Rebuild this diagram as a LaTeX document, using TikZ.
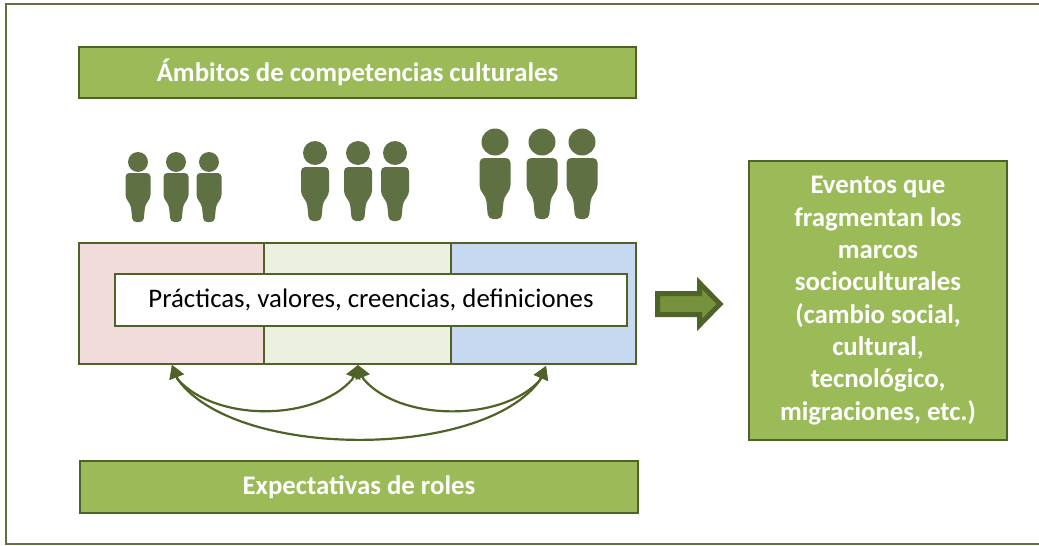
\documentclass[tikz,border=0pt]{standalone}
\usepackage{fontspec}
\setmainfont{Carlito}
\usetikzlibrary{arrows.meta,calc}
\definecolor{dk}{HTML}{4F6228}
\definecolor{fr}{HTML}{5F7143}
\definecolor{gn}{HTML}{9BBB59}
\definecolor{ar}{HTML}{76923C}
\definecolor{pk}{HTML}{F2DCDB}
\definecolor{lg}{HTML}{EBF1DE}
\definecolor{bl}{HTML}{C6D9F1}
\tikzset{
  x=1pt,y=-1pt,
  box/.style={draw=dk,line width=2pt,outer sep=0pt,fill=gn,inner sep=0pt,text=white,font=\fontsize{26.8}{32.3}\selectfont\bfseries,anchor=north west},
  cell/.style={draw=dk,line width=2.6pt,outer sep=0pt,inner sep=0pt,anchor=north west,minimum height=121pt},
  loop/.style={draw=dk,line width=2.2pt,{Triangle[length=13pt,width=15pt]}-{Triangle[length=13pt,width=15pt]}},
}
\newcommand{\baja}[2]{\raisebox{-#1}{#2}}
% #1 cx, #2 head cy, #3 head r, #4 body top, #5 bottom, #6 half width
\newcommand{\figura}[6]{%
  \fill[fr] (#1,#2) circle[radius=#3];
  \fill[fr,rounded corners=0.3*#6]
    ({#1-#6},#4) -- ({#1+#6},#4) -- ({#1+#6},{#4+0.52*(#5-#4)})
    -- ({#1+0.58*#6},{#4+0.64*(#5-#4)}) -- ({#1+0.44*#6},#5) -- ({#1-0.44*#6},#5)
    -- ({#1-0.58*#6},{#4+0.64*(#5-#4)}) -- ({#1-#6},{#4+0.52*(#5-#4)}) -- cycle;
}
\begin{document}
\begin{tikzpicture}
\useasboundingbox (0,0) rectangle (1039,546);
\node[draw=fr,line width=2.4pt,outer sep=0pt,minimum width=1040pt,minimum height=540pt,inner sep=0pt,anchor=north west] (marco) at (6,4) {};
\node[box,minimum width=557pt,minimum height=51pt] (titulo) at (79,47) {\baja{2pt}{Ámbitos de competencias culturales}};
\node[box,minimum width=558pt,minimum height=52pt] (roles) at (80,461) {\baja{2pt}{Expectativas de roles}};
\node[box,minimum width=258pt,minimum height=279pt] (eventos) at (749,161) {\baja{3pt}{\begin{tabular}{@{}c@{}}Eventos que\\fragmentan los\\marcos\\socioculturales\\(cambio social,\\cultural,\\tecnológico,\\migraciones, etc.)\end{tabular}}};
\node[cell,fill=pk,minimum width=185pt] (c1) at (79,243) {};
\node[cell,fill=lg,minimum width=187pt] (c2) at (264,243) {};
\node[cell,fill=bl,minimum width=185pt] (c3) at (451,243) {};
\node[draw=dk,line width=2pt,outer sep=0pt,fill=white,minimum width=512pt,minimum height=52pt,inner sep=0pt,anchor=north west,font=\fontsize{26.8}{32}\selectfont] (lista) at (115,274) {\baja{2pt}{Prácticas, valores, creencias, definiciones}};
\foreach \x in {138,176,209}{\figura{\x}{162}{10}{173}{222}{12.5}}
\foreach \x in {315,358,395}{\figura{\x}{153}{12}{167}{221}{14}}
\foreach \x in {495,542,582}{\figura{\x}{142}{13.5}{158}{219}{15.5}}
\coordinate (a) at (172,365);
\coordinate (b) at (358,365);
\coordinate (d) at (546,366);
\coordinate (a1) at (177.5,379);
\coordinate (bl) at (352.5,379);
\coordinate (br) at (363.5,379);
\coordinate (d1) at (540,380);
\draw[loop] (a) -- (a1) .. controls (215,422) and (315,422) .. (bl) -- (b);
\draw[loop] (b) -- (br) .. controls (400,422) and (503,422) .. (d1) -- (d);
\draw[loop] (a) -- (a1) .. controls (235,460) and (483,460) .. (d1) -- (d);
\draw[draw=dk,fill=ar,line width=5pt,miter limit=10] (657.5,293.5) -- (699.5,293.5) -- (699.5,283) -- (720,304) -- (699.5,325) -- (699.5,314.5) -- (657.5,314.5) -- cycle;
\end{tikzpicture}
\end{document}
